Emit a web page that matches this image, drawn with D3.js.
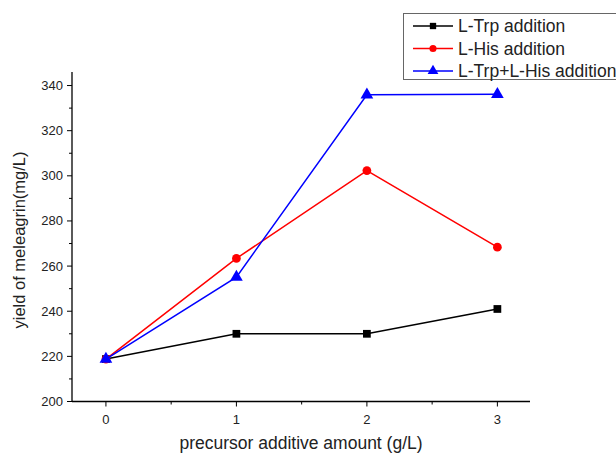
<!DOCTYPE html>
<html>
<head>
<meta charset="utf-8">
<script src="https://cdn.jsdelivr.net/npm/d3@7"></script>
<style>
  body { margin: 0; background: #fff; }
  svg { display: block; font-family: "Liberation Sans", Arial, sans-serif; }
</style>
</head>
<body>
<svg id="chart" width="616" height="455"></svg>
<script>
var amounts = [0, 1, 2, 3];
var trpYield = [218.8, 230.0, 230.0, 241.0];
var hisYield = [218.8, 263.4, 302.3, 268.4];
var bothYield = [218.8, 255.1, 335.9, 336.1];
var yTicks = [200, 220, 240, 260, 280, 300, 320, 340];

var seriesList = [
    {name: "L-Trp addition", values: trpYield, color: "#000000", shape: d3.symbolSquare},
    {name: "L-His addition", values: hisYield, color: "#ff0000", shape: d3.symbolCircle},
    {name: "L-Trp+L-His addition", values: bothYield, color: "#0000ff", shape: d3.symbolTriangle}
];

var svg = d3.select("#chart");

var x = d3.scaleLinear().domain([-0.26, 3.25]).range([72, 530]);
var y = d3.scaleLinear().domain([200, 346]).range([401.5, 72]);

// axes
var xAxis = svg.append("g").attr("transform", "translate(0,401.5)");
xAxis.append("path").attr("d", "M" + x.range()[0] + ",0H" + x.range()[1])
    .attr("stroke", "#000").attr("stroke-width", 1.3);
xAxis.selectAll(".minor").data([0.5, 1.5, 2.5]).enter().append("line")
    .attr("x1", function(d){ return x(d); }).attr("x2", function(d){ return x(d); })
    .attr("y1", 0).attr("y2", 3).attr("stroke", "#000");
xAxis.selectAll(".major").data(amounts).enter().append("line")
    .attr("x1", function(d){ return x(d); }).attr("x2", function(d){ return x(d); })
    .attr("y1", 0).attr("y2", 5).attr("stroke", "#000");
xAxis.selectAll("text").data(amounts).enter().append("text")
    .attr("x", function(d){ return x(d); }).attr("y", 22)
    .attr("text-anchor", "middle").attr("font-size", 13).attr("fill", "#222")
    .text(function(d){ return d; });

var yAxis = svg.append("g").attr("transform", "translate(72,0)");
yAxis.append("path").attr("d", "M0," + y.range()[0] + "V" + y.range()[1])
    .attr("stroke", "#000").attr("stroke-width", 1.3);
yAxis.selectAll(".minor").data(d3.range(210, 346, 20)).enter().append("line")
    .attr("y1", function(d){ return y(d); }).attr("y2", function(d){ return y(d); })
    .attr("x1", 0).attr("x2", -3).attr("stroke", "#000");
yAxis.selectAll(".major").data(yTicks).enter().append("line")
    .attr("y1", function(d){ return y(d); }).attr("y2", function(d){ return y(d); })
    .attr("x1", 0).attr("x2", -5).attr("stroke", "#000");
yAxis.selectAll("text").data(yTicks).enter().append("text")
    .attr("x", -9).attr("y", function(d){ return y(d) + 4.5; })
    .attr("text-anchor", "end").attr("font-size", 13).attr("fill", "#222")
    .text(function(d){ return d; });

svg.append("text")
    .attr("transform", "translate(25,240) rotate(-90)")
    .attr("text-anchor", "middle").attr("font-size", 16.5).attr("fill", "#222")
    .text("yield of meleagrin(mg/L)");
svg.append("text")
    .attr("x", 301).attr("y", 449)
    .attr("text-anchor", "middle").attr("font-size", 17.5).attr("fill", "#222")
    .text("precursor additive amount (g/L)");

// series
var line = d3.line()
    .x(function(d, i){ return x(amounts[i]); })
    .y(function(d){ return y(d); });

seriesList.forEach(function(s){
    svg.append("path").attr("d", line(s.values))
        .attr("fill", "none").attr("stroke", s.color).attr("stroke-width", 1.5);
    svg.selectAll(null).data(s.values).enter().append("path")
        .attr("d", d3.symbol().type(s.shape).size(s.shape === d3.symbolTriangle ? 70 : 60))
        .attr("transform", function(d, i){ return "translate(" + x(amounts[i]) + "," + y(d) + ")"; })
        .attr("fill", s.color);
});

// legend
var legend = svg.append("g");
legend.append("rect").attr("x", 403.5).attr("y", 13.5).attr("width", 240).attr("height", 66)
    .attr("fill", "#fff").attr("stroke", "#666").attr("stroke-width", 1);
seriesList.forEach(function(s, i){
    var ly = 26 + i * 22.5;
    legend.append("line").attr("x1", 413).attr("x2", 453).attr("y1", ly).attr("y2", ly)
        .attr("stroke", s.color).attr("stroke-width", 1.5);
    legend.append("path")
        .attr("d", d3.symbol().type(s.shape).size(s.shape === d3.symbolTriangle ? 50 : 40))
        .attr("transform", "translate(433," + ly + ")").attr("fill", s.color);
    legend.append("text").attr("x", 458).attr("y", ly + 6)
        .attr("font-size", 17.5).attr("fill", "#222").text(s.name);
});
</script>
</body>
</html>
